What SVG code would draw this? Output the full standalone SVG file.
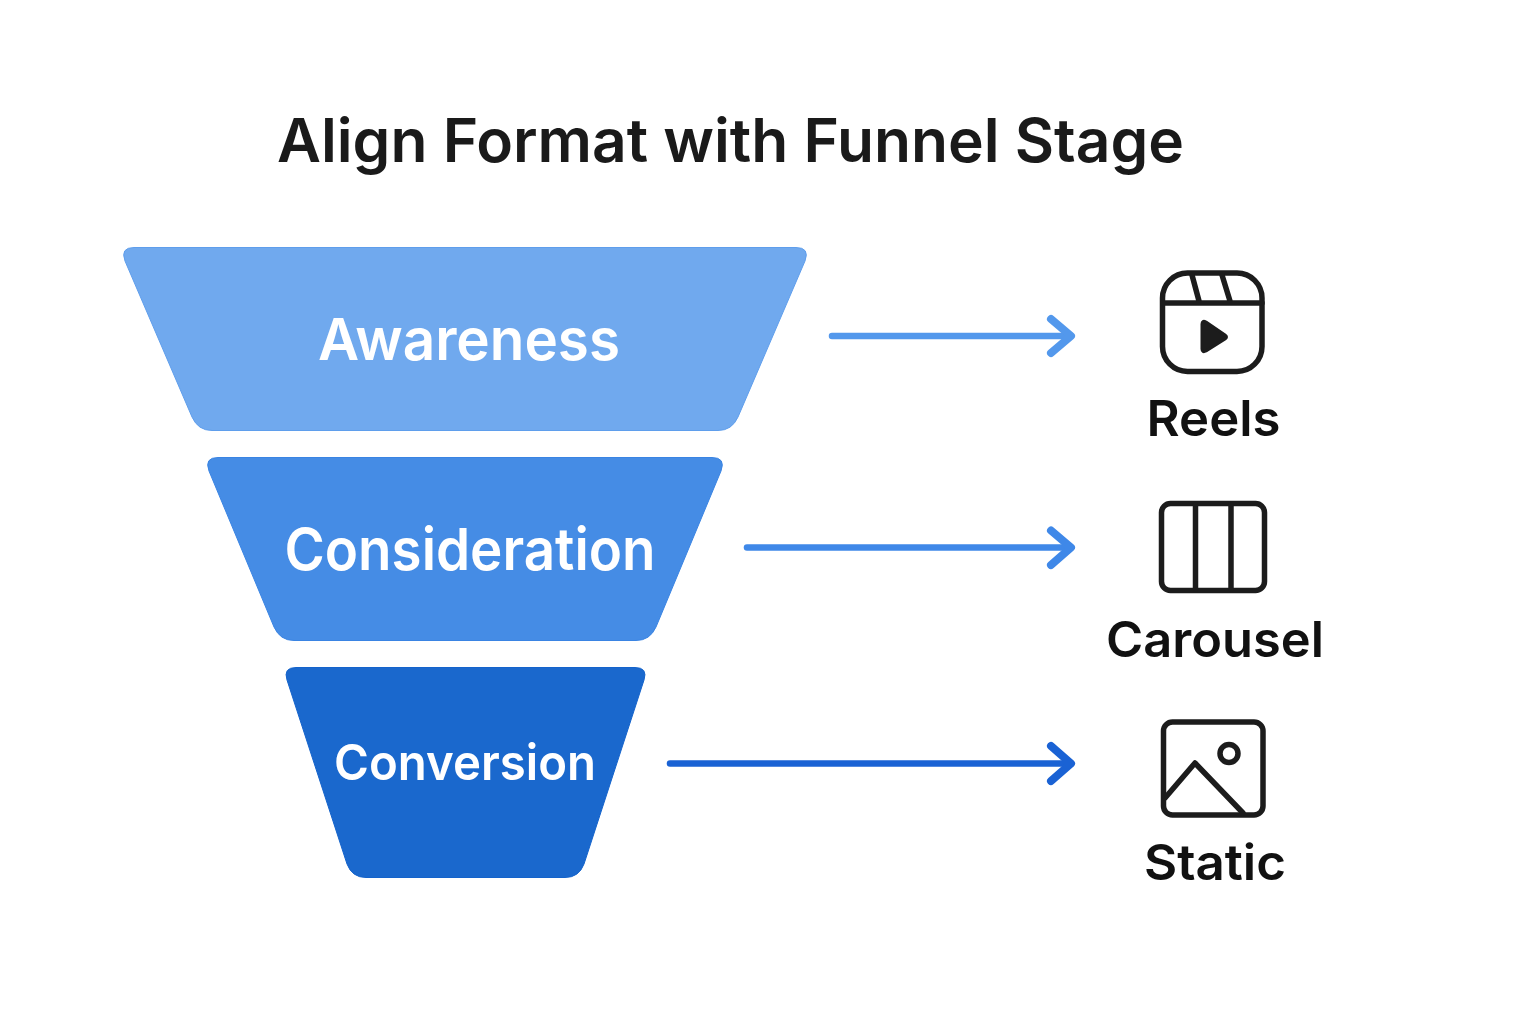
<svg xmlns="http://www.w3.org/2000/svg" width="1536" height="1024" viewBox="0 0 1536 1024">
<style>
text{font-family:Inter,"Noto Sans","Liberation Sans",sans-serif}
.title{font-size:60px;font-weight:630;fill:#1a1a1a}
.stage{font-weight:560;fill:#fff;text-anchor:middle}
.fmt{font-size:49.500px;font-weight:610;fill:#111;text-anchor:middle}
.ic{fill:none;stroke:#1c1c1c;stroke-width:5.500px;stroke-linejoin:round;stroke-linecap:round}
.arr{fill:none;stroke-width:6.500px;stroke-linecap:round;stroke-linejoin:round}
.head{fill:none;stroke-width:8px;stroke-linecap:round;stroke-linejoin:round}
</style>
<rect width="1536" height="1024" fill="#fff"/>
<text class="title" x="277" y="162" textLength="907" lengthAdjust="spacingAndGlyphs">Align Format with Funnel Stage</text>
<g id="awareness">
<path d="M134 247.500H796Q810 247.500 805 261L738 417Q732 430.500 718 430.500H212Q198 430.500 192 417L125 261Q120 247.500 134 247.500Z" fill="#70a9ee" stroke="#5f9eec" stroke-width="1"/>
<text class="stage" x="469" y="359.500" font-size="58" textLength="302" lengthAdjust="spacingAndGlyphs">Awareness</text>
</g>
<g id="consideration">
<path d="M218 457.500H712Q726 457.500 721 471L656 627Q650 640.500 636 640.500H294Q280 640.500 274 627L209 471Q204 457.500 218 457.500Z" fill="#458ce5" stroke="#3a84e3" stroke-width="1"/>
<text class="stage" x="470" y="569.500" font-size="58" textLength="371" lengthAdjust="spacingAndGlyphs">Consideration</text>
</g>
<g id="conversion">
<path d="M296 667.500H635Q648 667.500 644 680L584 864Q579 877.500 565 877.500H366Q352 877.500 347 864L287 680Q283 667.500 296 667.500Z" fill="#1a68cd" stroke="#1463cb" stroke-width="1"/>
<text class="stage" x="465" y="779.500" font-size="50" textLength="262" lengthAdjust="spacingAndGlyphs">Conversion</text>
</g>
<g id="connectors">
<path class="arr" stroke="#5398ec" d="M832 336H1068"/>
<path class="head" stroke="#5398ec" d="M1051 319L1071 336L1051 353"/>
<path class="arr" stroke="#3f88e8" d="M747 547.500H1068"/>
<path class="head" stroke="#3f88e8" d="M1051 530.500L1071 547.500L1051 565"/>
<path class="arr" stroke="#1a62d4" d="M670 763.500H1068"/>
<path class="head" stroke="#1a62d4" d="M1051 746L1071 763.500L1051 781"/>
</g>
<g id="reels">
<rect class="ic" x="1162.500" y="273" width="99.500" height="98.500" rx="25"/>
<path class="ic" d="M1163 303H1262M1192 275L1199 301M1222 275L1230 301"/>
<path d="M1202 324Q1202 320 1206 322L1225 335Q1228 337 1225 339L1206 351Q1202 353 1202 349Z" fill="#1c1c1c" stroke="#1c1c1c" stroke-width="3" stroke-linejoin="round"/>
<text class="fmt" x="1213.500" y="435.500" textLength="134" lengthAdjust="spacingAndGlyphs">Reels</text>
</g>
<g id="carousel">
<rect class="ic" x="1161.500" y="503.500" width="103" height="87" rx="9"/>
<path class="ic" d="M1195.500 505V589M1231 505V589"/>
<text class="fmt" x="1215" y="656.500" textLength="218" lengthAdjust="spacingAndGlyphs">Carousel</text>
</g>
<g id="static">
<rect class="ic" x="1163.500" y="722" width="99.500" height="93" rx="9"/>
<circle class="ic" cx="1229" cy="753.500" r="9"/>
<path class="ic" d="M1165 798L1195 763L1243 813"/>
<text class="fmt" x="1215" y="879.500" textLength="142" lengthAdjust="spacingAndGlyphs">Static</text>
</g>
</svg>
